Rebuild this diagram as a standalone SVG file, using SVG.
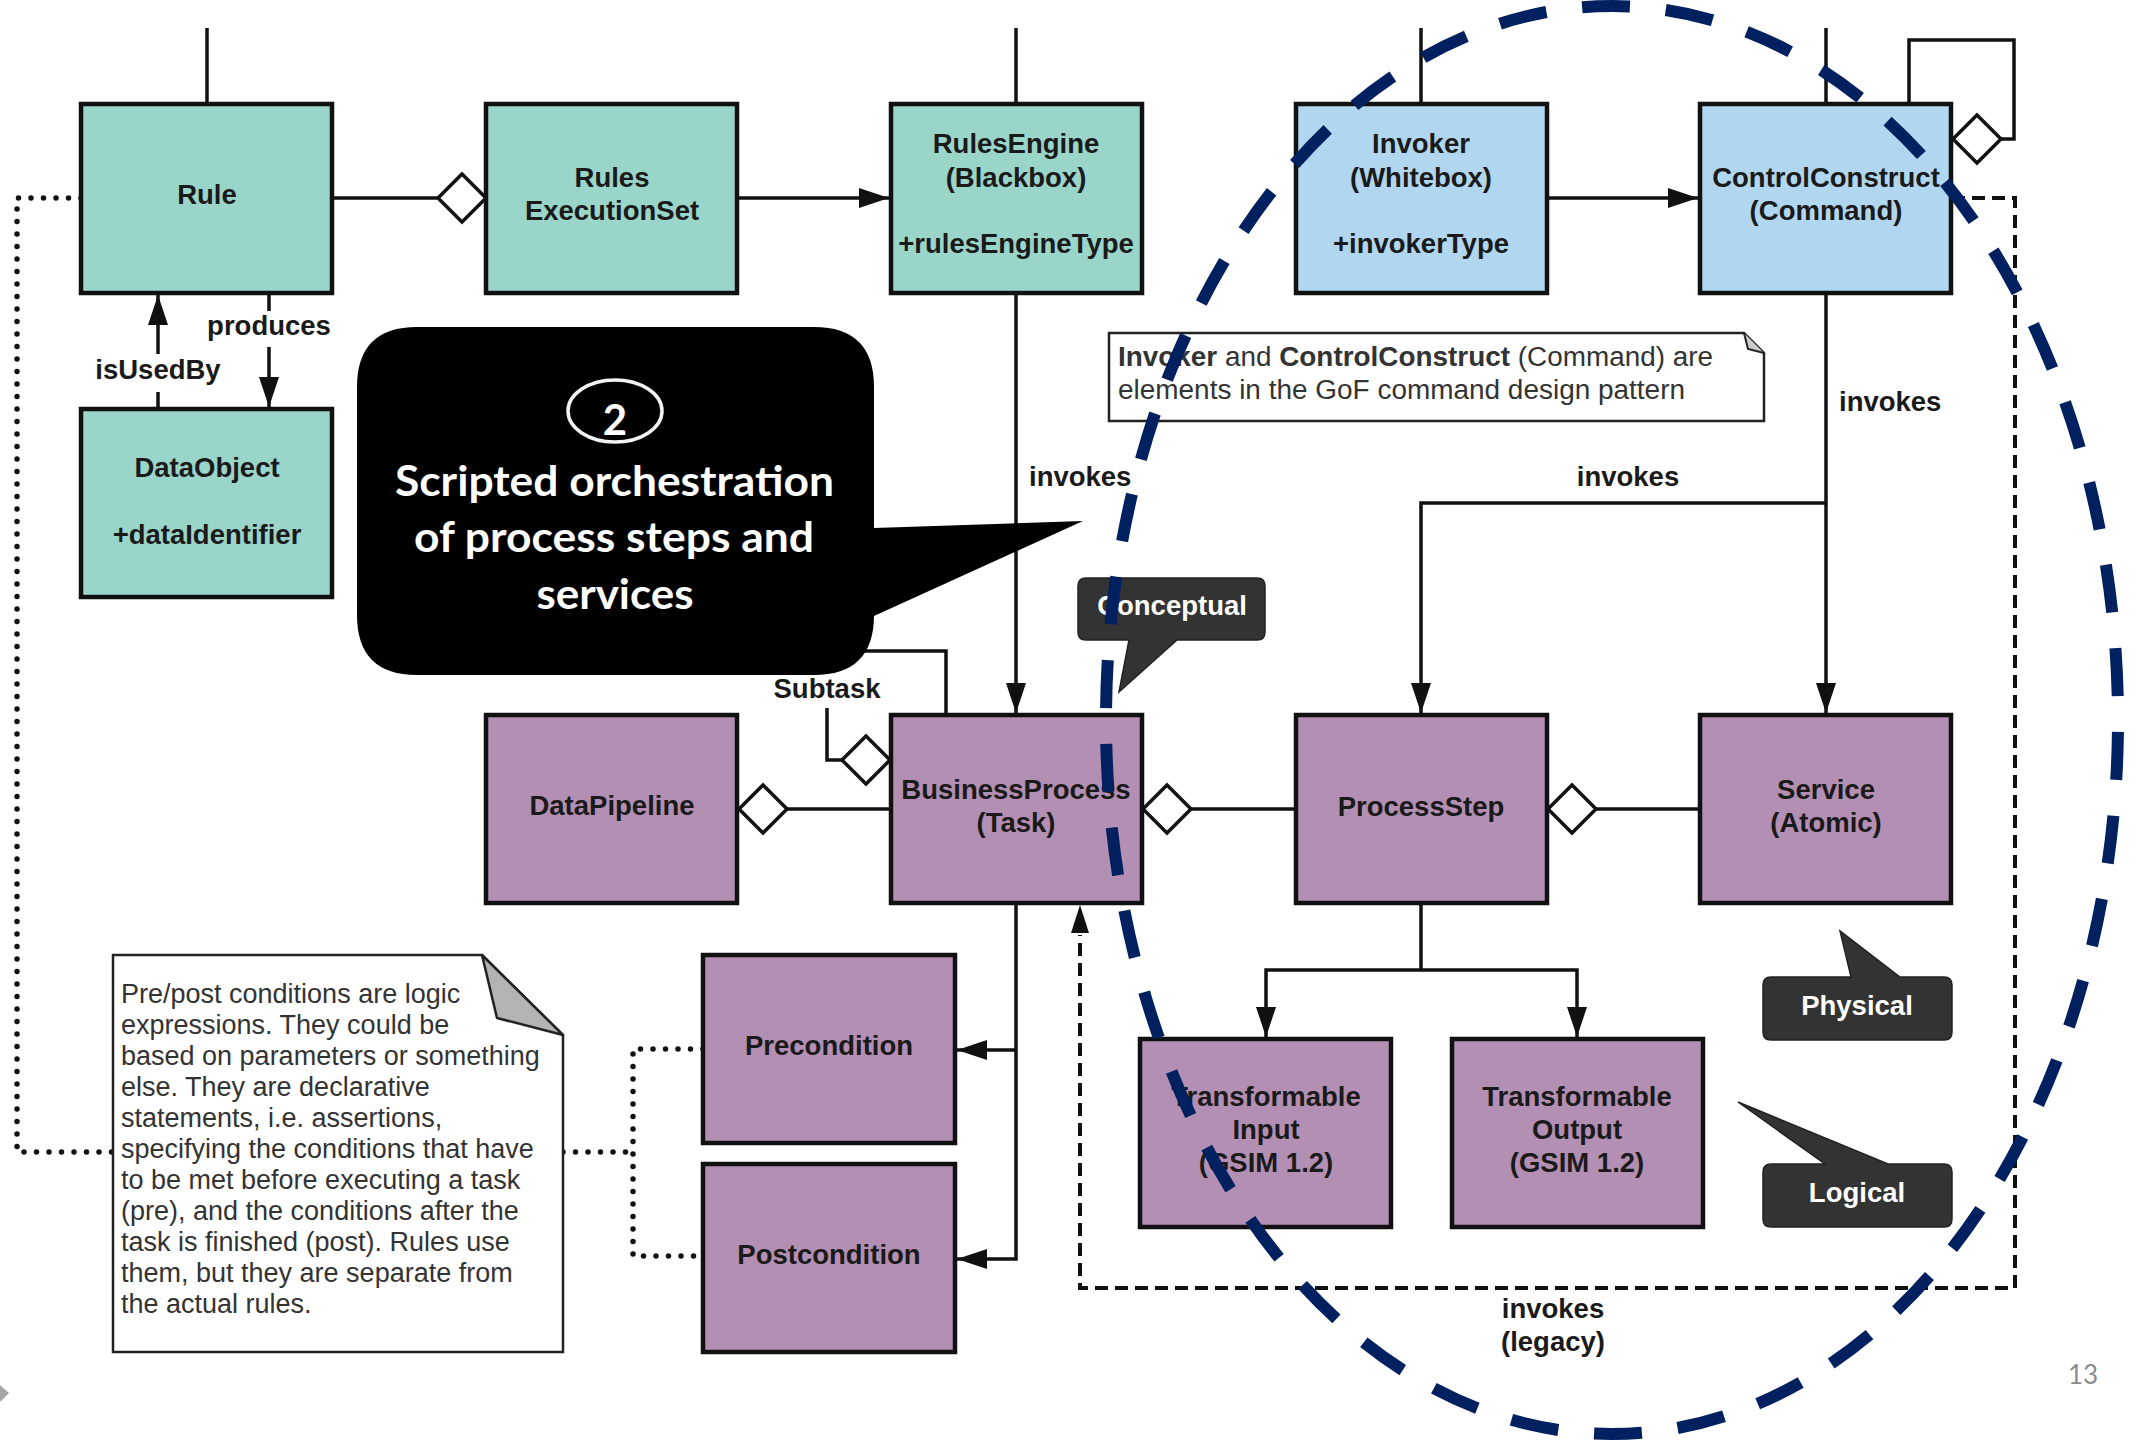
<svg xmlns="http://www.w3.org/2000/svg" width="2137" height="1440" viewBox="0 0 2137 1440">
  <style>
    .box { stroke: #111; stroke-width: 4.5; }
    .teal { fill: #9ad5ca; }
    .blue { fill: #b1d6ef; }
    .purple { fill: #b38fb3; }
    .t { font-family: "Liberation Sans", Arial, sans-serif; font-weight: bold; font-size: 27.5px; fill: #1a1a1a; text-anchor: middle; }
    .lbl { font-family: "Liberation Sans", Arial, sans-serif; font-weight: bold; font-size: 27.5px; fill: #1a1a1a; }
    .conn { fill: none; stroke: #111; stroke-width: 3.5; }
    .arr { marker-end: url(#arrow); }
    .legacy { fill: none; stroke: #111; stroke-width: 4; stroke-dasharray: 13 7; }
    .dots { fill: none; stroke: #111; stroke-width: 5.5; stroke-linecap: round; stroke-dasharray: 0 12.5; }
    .diamond { fill: #fff; stroke: #111; stroke-width: 3.5; }
    .note { fill: #fff; stroke: #222; stroke-width: 2.5; }
    .nt { font-family: "Liberation Sans", Arial, sans-serif; font-size: 27px; fill: #333; }
    .tag { fill: #333; stroke: #222; stroke-width: 1.5; }
    .tagt { font-family: "Liberation Sans", Arial, sans-serif; font-weight: bold; font-size: 27.5px; fill: #fff; text-anchor: middle; }
    .big { font-family: Lato, "Open Sans", sans-serif; font-weight: bold; font-size: 42px; fill: #fff; text-anchor: middle; }
  </style>
  <defs>
    <marker id="arrow" markerUnits="userSpaceOnUse" viewBox="0 0 30 20" markerWidth="30" markerHeight="20" refX="30" refY="10" orient="auto">
      <path d="M0,0 L30,10 L0,20 z" fill="#111"/>
    </marker>
  </defs>

  <rect width="2137" height="1440" fill="#fff"/>

  <!-- connectors -->
  <g id="connectors">
    <!-- stubs leaving the top edge -->
    <path class="conn" d="M207,28 V104"/>
    <path class="conn" d="M1016,28 V104"/>
    <path class="conn" d="M1421,28 V104"/>
    <path class="conn" d="M1826,28 V104"/>
    <!-- Rule part of RulesExecutionSet -->
    <path class="conn" d="M332,198 H440"/>
    <polygon class="diamond" points="438,198 462,174 486,198 462,222"/>
    <!-- RulesExecutionSet to RulesEngine -->
    <path class="conn arr" d="M737,198 H889"/>
    <!-- Invoker to ControlConstruct -->
    <path class="conn arr" d="M1547,198 H1698"/>
    <!-- ControlConstruct self aggregation -->
    <path class="conn" d="M1909,104 V40 H2014 V139 H2000"/>
    <polygon class="diamond" points="1953,139 1977,115 2001,139 1977,163"/>
    <!-- isUsedBy / produces -->
    <path class="conn arr" d="M158,409 V295"/>
    <path class="conn arr" d="M269,293 V407"/>
    <!-- RulesEngine invokes BusinessProcess -->
    <path class="conn arr" d="M1016,292 V713"/>
    <!-- ControlConstruct invokes Service and ProcessStep -->
    <path class="conn arr" d="M1826,292 V713"/>
    <path class="conn arr" d="M1826,503 H1421 V713"/>
    <!-- Subtask self aggregation -->
    <path class="conn" d="M946,715 V651 H827 V760 H842"/>
    <polygon class="diamond" points="842,760 866,736 890,760 866,784"/>
    <!-- DataPipeline / BusinessProcess -->
    <path class="conn" d="M787,809 H891"/>
    <polygon class="diamond" points="739,809 763,785 787,809 763,833"/>
    <!-- BusinessProcess / ProcessStep -->
    <path class="conn" d="M1191,809 H1296"/>
    <polygon class="diamond" points="1143,809 1167,785 1191,809 1167,833"/>
    <!-- ProcessStep / Service -->
    <path class="conn" d="M1596,809 H1700"/>
    <polygon class="diamond" points="1548,809 1572,785 1596,809 1572,833"/>
    <!-- ProcessStep to transformables -->
    <path class="conn" d="M1421,903 V970"/>
    <path class="conn arr" d="M1421,970 H1266 V1037"/>
    <path class="conn arr" d="M1421,970 H1577 V1037"/>
    <!-- BusinessProcess to conditions -->
    <path class="conn arr" d="M1016,903 V1259 H957"/>
    <path class="conn arr" d="M1016,1050 H957"/>
    <!-- legacy invocation -->
    <path class="legacy" d="M1952,198 H2015 V1288 H1080 V935"/>
    <path d="M1080,905 L1089,933 L1071,933 z" fill="#111"/>
    <!-- note anchors -->
    <path class="dots" d="M81,198 H17 V1152 H113"/>
    <path class="dots" d="M563,1152 H633"/>
    <path class="dots" d="M703,1049 H633 V1256 H703"/>
  </g>

  <!-- teal rule nodes -->
  <g id="rule">
    <rect class="box teal" x="81" y="104" width="251" height="189"/>
    <text class="t" x="207" y="204">Rule</text>
  </g>
  <g id="rules-execution-set">
    <rect class="box teal" x="486" y="104" width="251" height="189"/>
    <text class="t" x="612" y="187">Rules</text>
    <text class="t" x="612" y="220">ExecutionSet</text>
  </g>
  <g id="rules-engine">
    <rect class="box teal" x="891" y="104" width="251" height="189"/>
    <text class="t" x="1016" y="153">RulesEngine</text>
    <text class="t" x="1016" y="187">(Blackbox)</text>
    <text class="t" x="1016" y="253">+rulesEngineType</text>
  </g>
  <g id="data-object">
    <rect class="box teal" x="81" y="409" width="251" height="188"/>
    <text class="t" x="207" y="477">DataObject</text>
    <text class="t" x="207" y="544">+dataIdentifier</text>
  </g>

  <!-- blue command nodes -->
  <g id="invoker">
    <rect class="box blue" x="1296" y="104" width="251" height="189"/>
    <text class="t" x="1421" y="153">Invoker</text>
    <text class="t" x="1421" y="187">(Whitebox)</text>
    <text class="t" x="1421" y="253">+invokerType</text>
  </g>
  <g id="control-construct">
    <rect class="box blue" x="1700" y="104" width="251" height="189"/>
    <text class="t" x="1826" y="187">ControlConstruct</text>
    <text class="t" x="1826" y="220">(Command)</text>
  </g>

  <!-- purple process nodes -->
  <g id="data-pipeline">
    <rect class="box purple" x="486" y="715" width="251" height="188"/>
    <text class="t" x="612" y="815">DataPipeline</text>
  </g>
  <g id="business-process">
    <rect class="box purple" x="891" y="715" width="251" height="188"/>
    <text class="t" x="1016" y="799">BusinessProcess</text>
    <text class="t" x="1016" y="832">(Task)</text>
  </g>
  <g id="process-step">
    <rect class="box purple" x="1296" y="715" width="251" height="188"/>
    <text class="t" x="1421" y="816">ProcessStep</text>
  </g>
  <g id="service">
    <rect class="box purple" x="1700" y="715" width="251" height="188"/>
    <text class="t" x="1826" y="799">Service</text>
    <text class="t" x="1826" y="832">(Atomic)</text>
  </g>
  <g id="transformable-input">
    <rect class="box purple" x="1140" y="1039" width="251" height="188"/>
    <text class="t" x="1266" y="1106">Transformable</text>
    <text class="t" x="1266" y="1139">Input</text>
    <text class="t" x="1266" y="1172">(GSIM 1.2)</text>
  </g>
  <g id="transformable-output">
    <rect class="box purple" x="1452" y="1039" width="251" height="188"/>
    <text class="t" x="1577" y="1106">Transformable</text>
    <text class="t" x="1577" y="1139">Output</text>
    <text class="t" x="1577" y="1172">(GSIM 1.2)</text>
  </g>
  <g id="precondition">
    <rect class="box purple" x="703" y="955" width="252" height="188"/>
    <text class="t" x="829" y="1055">Precondition</text>
  </g>
  <g id="postcondition">
    <rect class="box purple" x="703" y="1164" width="252" height="188"/>
    <text class="t" x="829" y="1264">Postcondition</text>
  </g>

  <!-- connector labels -->
  <g id="labels">
    <rect x="90" y="354" width="136" height="38" fill="#fff"/>
    <text class="lbl" x="158" y="379" text-anchor="middle">isUsedBy</text>
    <rect x="203" y="311" width="132" height="36" fill="#fff"/>
    <text class="lbl" x="269" y="335" text-anchor="middle">produces</text>
    <text class="lbl" x="1029" y="486">invokes</text>
    <text class="lbl" x="1628" y="486" text-anchor="middle">invokes</text>
    <text class="lbl" x="1839" y="411">invokes</text>
    <rect x="768" y="670" width="118" height="38" fill="#fff"/>
    <text class="lbl" x="827" y="698" text-anchor="middle">Subtask</text>
    <text class="lbl" x="1553" y="1318" text-anchor="middle">invokes</text>
    <text class="lbl" x="1553" y="1351" text-anchor="middle">(legacy)</text>
  </g>

  <!-- comment notes -->
  <g id="note-command">
    <path class="note" d="M1109,333 H1744 L1764,353 V421 H1109 Z"/>
    <path d="M1744,333 L1748,349 L1764,353" fill="#ccc" stroke="#222" stroke-width="2"/>
    <text class="nt" x="1118" y="366" font-size="28" textLength="595" lengthAdjust="spacingAndGlyphs"><tspan font-weight="bold">Invoker</tspan> and <tspan font-weight="bold">ControlConstruct</tspan> (Command) are</text>
    <text class="nt" x="1118" y="399" font-size="28" textLength="567" lengthAdjust="spacingAndGlyphs">elements in the GoF command design pattern</text>
  </g>
  <g id="note-conditions">
    <path class="note" d="M113,955 H482 L563,1035 V1352 H113 Z"/>
    <path d="M482,955 L497,1018 L563,1035 Z" fill="#b3b3b3" stroke="#222" stroke-width="2.5" stroke-linejoin="round"/>
    <text class="nt">
      <tspan x="121" y="1003">Pre/post conditions are logic</tspan>
      <tspan x="121" y="1034">expressions. They could be</tspan>
      <tspan x="121" y="1065">based on parameters or something</tspan>
      <tspan x="121" y="1096">else. They are declarative</tspan>
      <tspan x="121" y="1127">statements, i.e. assertions,</tspan>
      <tspan x="121" y="1158">specifying the conditions that have</tspan>
      <tspan x="121" y="1189">to be met before executing a task</tspan>
      <tspan x="121" y="1220">(pre), and the conditions after the</tspan>
      <tspan x="121" y="1251">task is finished (post). Rules use</tspan>
      <tspan x="121" y="1282">them, but they are separate from</tspan>
      <tspan x="121" y="1313">the actual rules.</tspan>
    </text>
  </g>

  <!-- level tags -->
  <g id="tag-conceptual">
    <path class="tag" d="M1086,578 H1257 Q1265,578 1265,586 V632 Q1265,640 1257,640 H1177 L1119,692 L1129,640 H1086 Q1078,640 1078,632 V586 Q1078,578 1086,578 Z"/>
    <text class="tagt" x="1172" y="615">Conceptual</text>
  </g>
  <g id="tag-physical">
    <path class="tag" d="M1771,977 H1851 L1840,931 L1900,977 H1944 Q1952,977 1952,985 V1032 Q1952,1040 1944,1040 H1771 Q1763,1040 1763,1032 V985 Q1763,977 1771,977 Z"/>
    <text class="tagt" x="1857" y="1015">Physical</text>
  </g>
  <g id="tag-logical">
    <path class="tag" d="M1771,1164 H1825 L1738,1102 L1888,1164 H1944 Q1952,1164 1952,1172 V1219 Q1952,1227 1944,1227 H1771 Q1763,1227 1763,1219 V1172 Q1763,1164 1771,1164 Z"/>
    <text class="tagt" x="1857" y="1202">Logical</text>
  </g>

  <!-- orchestration callout -->
  <g id="callout-orchestration">
    <path d="M417,327 H814 Q874,327 874,387 V528 L1083,521 L874,616 V615 Q874,675 814,675 H417 Q357,675 357,615 V387 Q357,327 417,327 Z" fill="#000"/>
    <ellipse cx="615" cy="411" rx="47" ry="31" fill="none" stroke="#f2f2f2" stroke-width="3.5"/>
    <text class="big" x="615" y="435" font-size="55">2</text>
    <text class="big" x="614.5" y="496" textLength="439" lengthAdjust="spacingAndGlyphs">Scripted orchestration</text>
    <text class="big" x="614" y="552" textLength="400" lengthAdjust="spacingAndGlyphs">of process steps and</text>
    <text class="big" x="615" y="609" textLength="157" lengthAdjust="spacingAndGlyphs">services</text>
  </g>

  <!-- command pattern scope -->
  <ellipse id="command-scope" cx="1612" cy="720" rx="506" ry="714" fill="none" stroke="#002060" stroke-width="12" stroke-dasharray="48 36" pathLength="3864" stroke-dashoffset="-12"/>

  <!-- slide furniture -->
  <polygon points="0,1385 9,1393 0,1402" fill="#a6a6a6"/>
  <text x="2083" y="1384" font-family="Lato, 'Open Sans', sans-serif" font-size="26" fill="#8c8c8c" text-anchor="middle">13</text>
</svg>
